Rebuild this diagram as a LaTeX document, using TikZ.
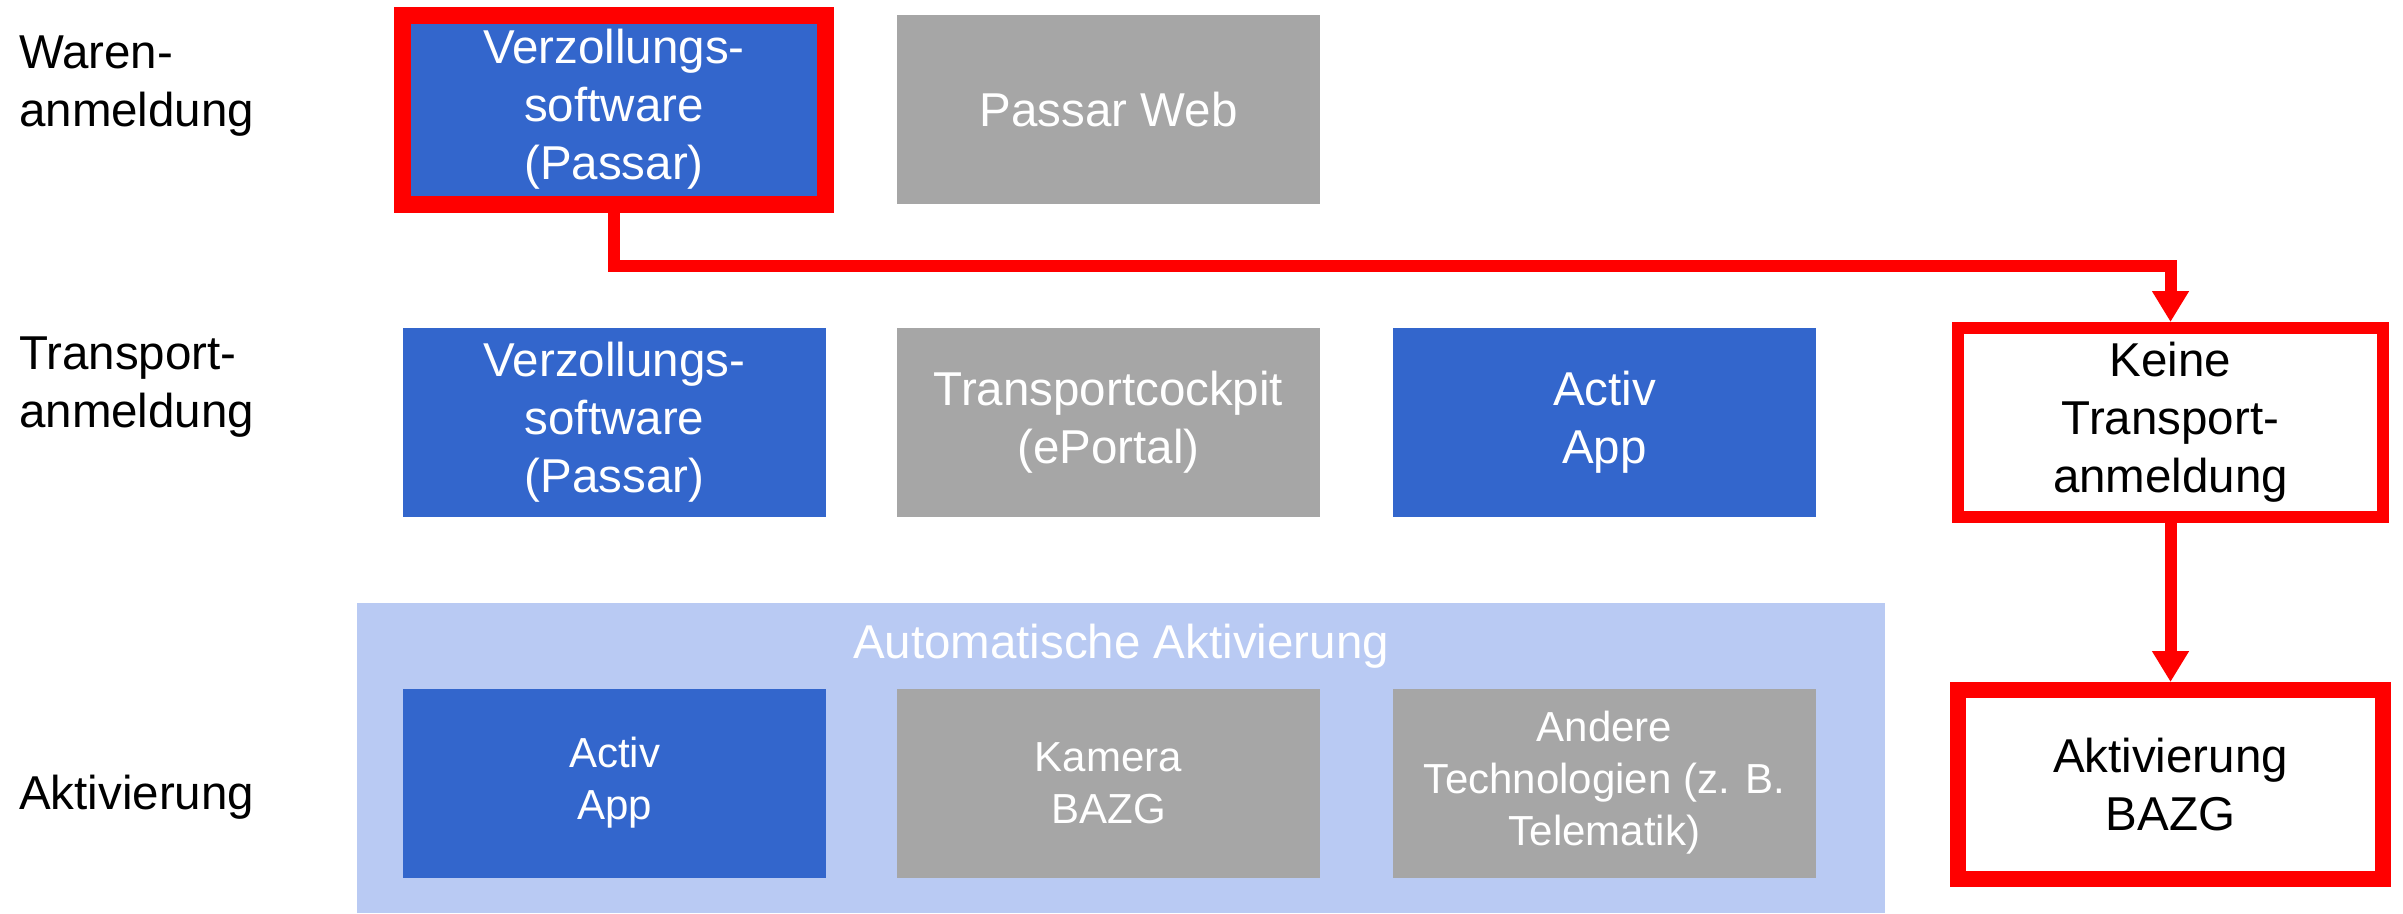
\documentclass[tikz,border=0pt]{standalone}
\usepackage{fontspec}
\setmainfont{Liberation Sans}
\usetikzlibrary{arrows.meta}
\definecolor{boxblue}{RGB}{51,102,204}
\definecolor{boxgray}{RGB}{166,166,166}
\definecolor{bglight}{RGB}{185,202,243}
\definecolor{hired}{RGB}{255,0,0}
\begin{document}
\begin{tikzpicture}[x=1pt,y=-1pt,
  big/.style={font=\fontsize{47.5}{58}\selectfont},
  small/.style={font=\fontsize{42}{52}\selectfont},
  tile/.style={rectangle, inner sep=0pt, minimum width=423pt, minimum height=189pt, align=center, text=white},
  bluetile/.style={tile, fill=boxblue},
  graytile/.style={tile, fill=boxgray},
  whitetile/.style={tile, fill=white, text=black, minimum width=425pt},
  redframe/.style={draw=hired, line width=#1},
  conn/.style={draw=hired, line width=12pt, -{Triangle[width=35pt,length=31pt]}},
  rowlabel/.style={anchor=north west, inner sep=0pt, align=left, big},
]
\useasboundingbox (0,0) rectangle (2403,913);
% group background
\node[fill=bglight, inner sep=0pt, minimum width=1528pt, minimum height=310pt] (autobg) at (1121,758) {};
\node[anchor=base, inner sep=0pt, text=white, big] (autotitle) at (1121,658) {Automatische Aktivierung};
% row labels
\node[rowlabel] (l1) at (19,36) {Waren-\\anmeldung};
\node[rowlabel] (l2) at (19,337) {Transport-\\anmeldung};
\node[rowlabel] (l3) at (19,775) {Aktivierung};
% row 1
\node[bluetile, big, redframe=17pt] (w1) at (614,109.5) {Verzollungs-\\software\\(Passar)};
\node[graytile, big] (w2) at (1108.5,109.5) {Passar Web};
% row 2
\node[bluetile, big] (t1) at (614.5,422.5) {Verzollungs-\\software\\(Passar)};
\node[graytile, big] (t2) at (1108.5,422.5) {Transportcockpit\\(ePortal)};
\node[bluetile, big] (t3) at (1604.5,422.5) {Activ\\App};
\node[whitetile, big, redframe=12pt] (t4) at (2170.5,422.5) {Keine\\Transport-\\anmeldung};
% row 3
\node[bluetile, small] (a1) at (614.5,783) {Activ\\App};
\node[graytile, small] (a2) at (1108.5,783) {Kamera\\BAZG};
\node[graytile, small] (a3) at (1604.5,783) {Andere\\Technologien (z. B.\\Telematik)};
\node[whitetile, big, redframe=16pt] (a4) at (2170.5,784.5) {Aktivierung\\BAZG};
% connectors
\coordinate (turn) at (614,266);
\draw[conn] (w1.south) -- (turn) -| (t4.north);
\draw[conn] (t4.south) -- (a4.north);
\end{tikzpicture}
\end{document}
